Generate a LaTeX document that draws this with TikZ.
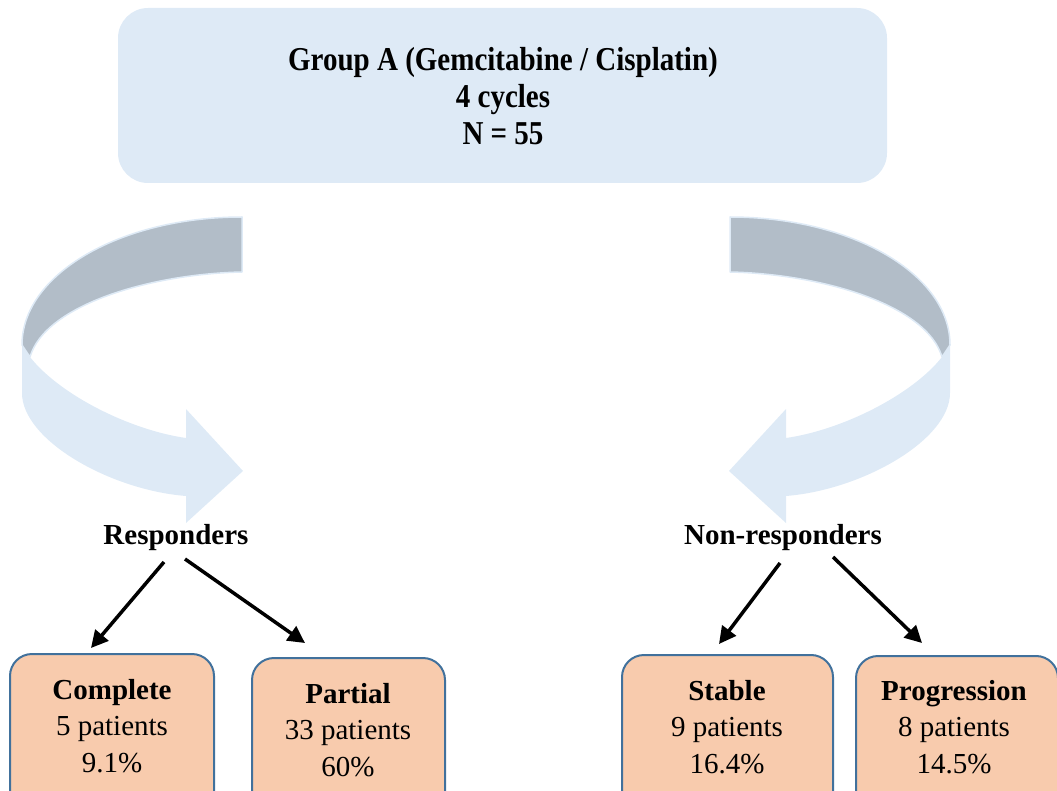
\documentclass[tikz,border=0pt]{standalone}
\usepackage{fontspec}
\setmainfont{Liberation Serif}
\usetikzlibrary{arrows.meta}
\definecolor{lightblue}{HTML}{DEEAF6}
\definecolor{ribbongray}{HTML}{B2BDC8}
\definecolor{peach}{HTML}{F8CBAD}
\definecolor{boxline}{HTML}{41719C}
\begin{document}
\begin{tikzpicture}[x=1pt,y=-1pt,
  topbox/.style={fill=lightblue, rounded corners=30pt, minimum width=769pt, minimum height=175pt, inner sep=0pt},
  outbox/.style={fill=peach, draw=boxline, line width=2pt, rounded corners=22pt, anchor=north, inner sep=0pt, minimum height=180pt},
  lbl/.style={font=\fontsize{29}{36.5}\selectfont, align=center, inner sep=0pt},
  toplbl/.style={font=\fontsize{29}{32.5}\selectfont\bfseries, align=center, inner sep=0pt},
  conn/.style={line width=3.5pt, -{Triangle[length=17pt,width=17pt]}},
  ribbonfront/.style={fill=lightblue},
  ribbonback/.style={fill=ribbongray, draw=lightblue, line width=1.5pt, line join=round}]
\useasboundingbox (0,0) rectangle (1057,791);
\clip (0,0) rectangle (1057,791);

% top box
\node[topbox] (grp) at (502.5,95.5) {};
\node[toplbl, transform shape, yscale=1.15] (grptext) at (503,96) {Group A (Gemcitabine / Cisplatin)\\4 cycles\\N = 55};

% curved ribbon arrows
\foreach \sh/\sc in {0/1, 972/-1}{
\begin{scope}[xshift=\sh pt, xscale=\sc]
\fill[ribbonfront] (30,357) .. controls (60,395) and (130,430) .. (186,438) -- (186,409) -- (243,471) -- (186,523) -- (186,496) .. controls (110,490) and (22,440) .. (22,393) -- (22,345) -- cycle;
\filldraw[ribbonback] (242,217) -- (242,272) .. controls (150,274) and (45,305) .. (30,357) -- (22,345) .. controls (22,274) and (120.6,217) .. (242,217) -- cycle;
\end{scope}
}

% group labels
\node[lbl, font=\fontsize{29}{36.5}\selectfont\bfseries] (resp) at (176,538) {Responders};
\node[lbl, font=\fontsize{29}{36.5}\selectfont\bfseries] (nonresp) at (783,538) {Non-responders};

% outcome boxes
\node[outbox, minimum width=204pt] (complete) at (112,653) {};
\node[outbox, minimum width=193pt] (partial) at (348.5,657) {};
\node[outbox, minimum width=211pt] (stable) at (727.5,654) {};
\node[outbox, minimum width=202pt] (progression) at (957,655) {};

\node[lbl] (completetext) at (112,726) {\textbf{Complete}\\5 patients\\9.1\%};
\node[lbl] (partialtext) at (348,730) {\textbf{Partial}\\33 patients\\60\%};
\node[lbl] (stabletext) at (727,727) {\textbf{Stable}\\9 patients\\16.4\%};
\node[lbl] (progressiontext) at (954,727) {\textbf{Progression}\\8 patients\\14.5\%};

% connectors
\coordinate (c1s) at (164,562);
\coordinate (c1e) at (91,648);
\coordinate (c2s) at (185,559);
\coordinate (c2e) at (305,643);
\coordinate (c3s) at (780,563);
\coordinate (c3e) at (719,644);
\coordinate (c4s) at (833,557);
\coordinate (c4e) at (922,643);
\draw[conn] (c1s) -- (c1e);
\draw[conn] (c2s) -- (c2e);
\draw[conn] (c3s) -- (c3e);
\draw[conn] (c4s) -- (c4e);
\end{tikzpicture}
\end{document}
